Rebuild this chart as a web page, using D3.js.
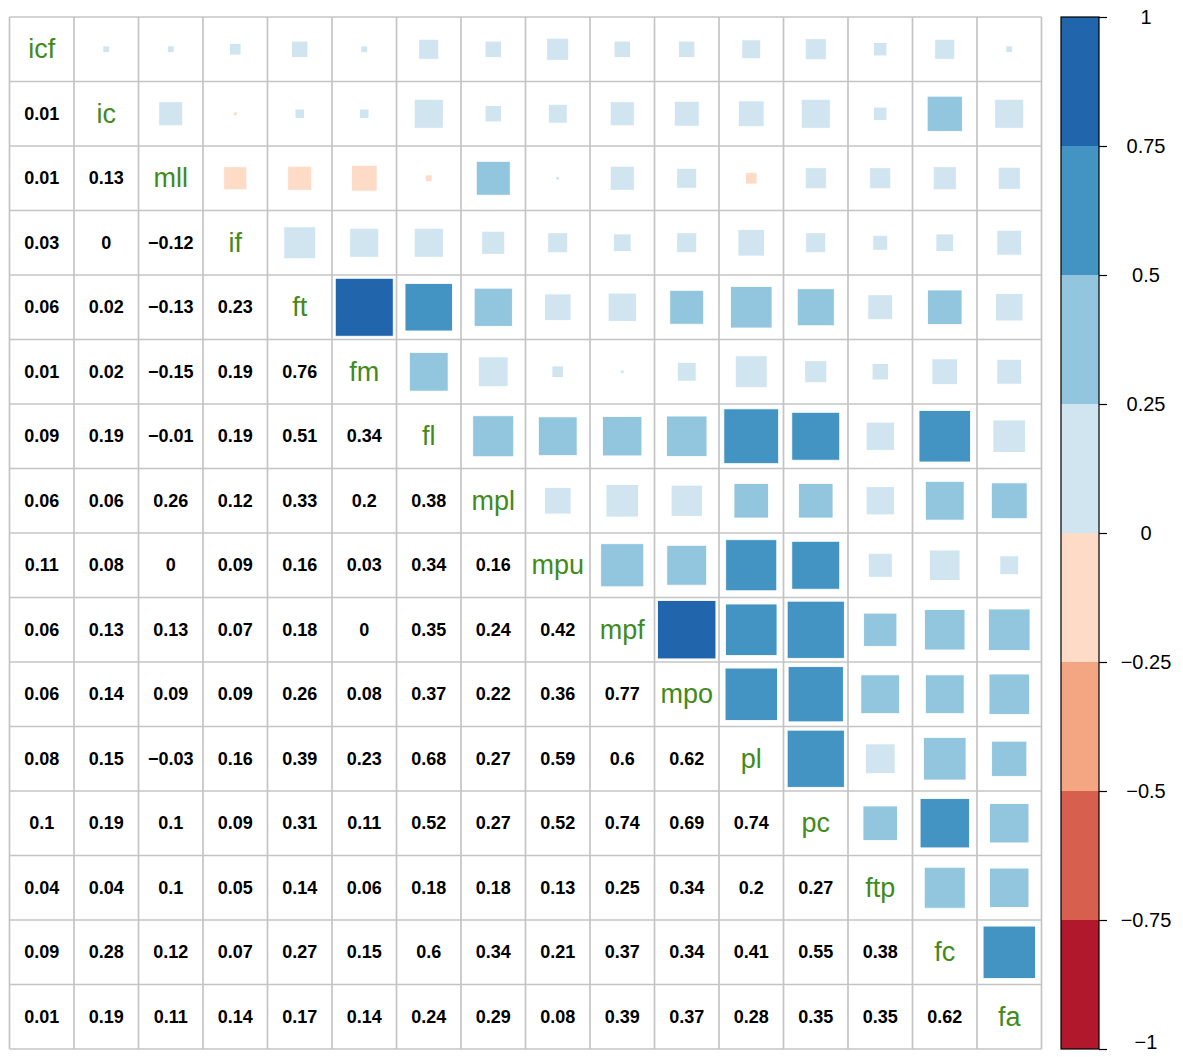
<!DOCTYPE html>
<html>
<head>
<meta charset="utf-8">
<script src="https://cdn.jsdelivr.net/npm/d3@7"></script>
<style>
  html, body { margin: 0; padding: 0; background: #fff; }
  svg { display: block; font-family: "Liberation Sans", Arial, Helvetica, sans-serif; }
</style>
</head>
<body>
<svg id="chart" width="1183" height="1057"></svg>
<script>
// Variables (diagonal labels)
const vars = ["icf","ic","mll","if","ft","fm","fl","mpl","mpu","mpf","mpo","pl","pc","ftp","fc","fa"];

// Lower-triangle correlations, row i has values for columns 0..i-1
const rowIc  = [0.01];
const rowMll = [0.01, 0.13];
const rowIf  = [0.03, -0.003, -0.12];
const rowFt  = [0.06, 0.02, -0.13, 0.23];
const rowFm  = [0.01, 0.02, -0.15, 0.19, 0.76];
const rowFl  = [0.09, 0.19, -0.01, 0.19, 0.51, 0.34];
const rowMpl = [0.06, 0.06, 0.26, 0.12, 0.33, 0.2, 0.38];
const rowMpu = [0.11, 0.08, 0.003, 0.09, 0.16, 0.03, 0.34, 0.16];
const rowMpf = [0.06, 0.13, 0.13, 0.07, 0.18, 0.003, 0.35, 0.24, 0.42];
const rowMpo = [0.06, 0.14, 0.09, 0.09, 0.26, 0.08, 0.37, 0.22, 0.36, 0.77];
const rowPl  = [0.08, 0.15, -0.03, 0.16, 0.39, 0.23, 0.68, 0.27, 0.59, 0.6, 0.62];
const rowPc  = [0.1, 0.19, 0.1, 0.09, 0.31, 0.11, 0.52, 0.27, 0.52, 0.74, 0.69, 0.74];
const rowFtp = [0.04, 0.04, 0.1, 0.05, 0.14, 0.06, 0.18, 0.18, 0.13, 0.25, 0.34, 0.2, 0.27];
const rowFc  = [0.09, 0.28, 0.12, 0.07, 0.27, 0.15, 0.6, 0.34, 0.21, 0.37, 0.34, 0.41, 0.55, 0.38];
const rowFa  = [0.01, 0.19, 0.11, 0.14, 0.17, 0.14, 0.24, 0.29, 0.08, 0.39, 0.37, 0.28, 0.35, 0.35, 0.62];

const lowerRows = [[], rowIc, rowMll, rowIf, rowFt, rowFm, rowFl, rowMpl, rowMpu, rowMpf, rowMpo, rowPl, rowPc, rowFtp, rowFc, rowFa];

// Colour bins (RdBu)
const binEdges = [-0.75, -0.5, -0.25, 0, 0.25, 0.5, 0.75];
const binColors = ["#B2182B","#D6604D","#F4A582","#FDDBC7","#D1E5F0","#92C5DE","#4393C3","#2166AC"];
const legendTicks = [1, 0.75, 0.5, 0.25, 0, -0.25, -0.5, -0.75, -1];

// ---- build cells ----
const cells = [];
lowerRows.forEach((row, i) => {
  row.forEach((v, j) => {
    cells.push({ r: i, c: j, v: v, type: "num" });   // lower: number
    cells.push({ r: j, c: i, v: v, type: "sq" });    // upper: square
  });
});

const svg = d3.select("#chart");
const x0 = 9.5, x1 = 1041.5, y0 = 17, y1 = 1049;

const xs = d3.scaleBand().domain(vars).range([x0, x1]);
const ys = d3.scaleBand().domain(vars).range([y0, y1]);
const col = d3.scaleThreshold().domain(binEdges).range(binColors);
const bw = xs.bandwidth();

const g = svg.append("g");

// squares
g.selectAll("rect.sq").data(cells.filter(d => d.type === "sq")).join("rect")
  .attr("class", "sq")
  .each(function(d) {
    const s = Math.sqrt(Math.abs(d.v)) * bw * 1.03;
    const cx = xs(vars[d.c]) + bw / 2, cy = ys(vars[d.r]) + bw / 2;
    d3.select(this)
      .attr("x", cx - s / 2).attr("y", cy - s / 2)
      .attr("width", s).attr("height", s)
      .attr("fill", col(d.v))
      .attr("stroke", "#fff").attr("stroke-width", 0.8);
  });

// numbers
const fmt = v => {
  const r = Math.round(v * 100) / 100;
  if (r === 0) return "0";
  return (r < 0 ? "\u2212" : "") + String(Math.abs(r));
};
g.selectAll("text.num").data(cells.filter(d => d.type === "num")).join("text")
  .attr("class", "num")
  .attr("x", d => xs(vars[d.c]) + bw / 2)
  .attr("y", d => ys(vars[d.r]) + bw / 2)
  .attr("text-anchor", "middle")
  .attr("dominant-baseline", "central")
  .attr("font-size", 18)
  .attr("font-weight", "bold")
  .attr("fill", "#000")
  .text(d => fmt(d.v));

// diagonal labels
g.selectAll("text.diag").data(vars).join("text")
  .attr("class", "diag")
  .attr("x", d => xs(d) + bw / 2)
  .attr("y", d => ys(d) + bw / 2)
  .attr("text-anchor", "middle")
  .attr("dominant-baseline", "central")
  .attr("font-size", 27)
  .attr("fill", "#428A1C")
  .text(d => d);

// grid lines
const gridLines = d3.range(vars.length + 1);
g.selectAll("line.v").data(gridLines).join("line")
  .attr("x1", i => x0 + i * bw).attr("x2", i => x0 + i * bw)
  .attr("y1", y0).attr("y2", y1)
  .attr("stroke", "#C4C4C4").attr("stroke-width", 1.7);
g.selectAll("line.h").data(gridLines).join("line")
  .attr("y1", i => y0 + i * bw).attr("y2", i => y0 + i * bw)
  .attr("x1", x0).attr("x2", x1)
  .attr("stroke", "#C4C4C4").attr("stroke-width", 1.7);

// ---- colour bar ----
const lx0 = 1061, lx1 = 1099;
const ly = d3.scaleLinear().domain([-1, 1]).range([y1, y0]);
const binBounds = [-1, ...binEdges, 1];
const leg = svg.append("g");
leg.selectAll("rect").data(binColors).join("rect")
  .attr("x", lx0)
  .attr("y", (c, i) => ly(binBounds[i + 1]))
  .attr("width", lx1 - lx0)
  .attr("height", (c, i) => ly(binBounds[i]) - ly(binBounds[i + 1]))
  .attr("fill", c => c);
leg.append("rect")
  .attr("x", lx0).attr("y", y0).attr("width", lx1 - lx0).attr("height", y1 - y0)
  .attr("fill", "none").attr("stroke", "#000").attr("stroke-width", 1.2);

const axis = d3.axisRight(ly).tickValues(legendTicks).tickSize(8).tickFormat(v => {
  if (v === 0) return "0";
  return (v < 0 ? "\u2212" : "") + String(Math.abs(v));
});
const ax = svg.append("g").attr("transform", `translate(${lx1},0)`).call(axis);
ax.select(".domain").remove();
ax.selectAll(".tick line").attr("stroke", "#000").attr("stroke-width", 1.2);
ax.selectAll(".tick text")
  .attr("x", 47)
  .attr("dy", v => v === -1 ? "-0.05em" : "0.32em")
  .attr("text-anchor", "middle")
  .attr("font-size", 20)
  .attr("font-family", "Liberation Sans, Arial, sans-serif")
  .attr("fill", "#000");
</script>
</body>
</html>
